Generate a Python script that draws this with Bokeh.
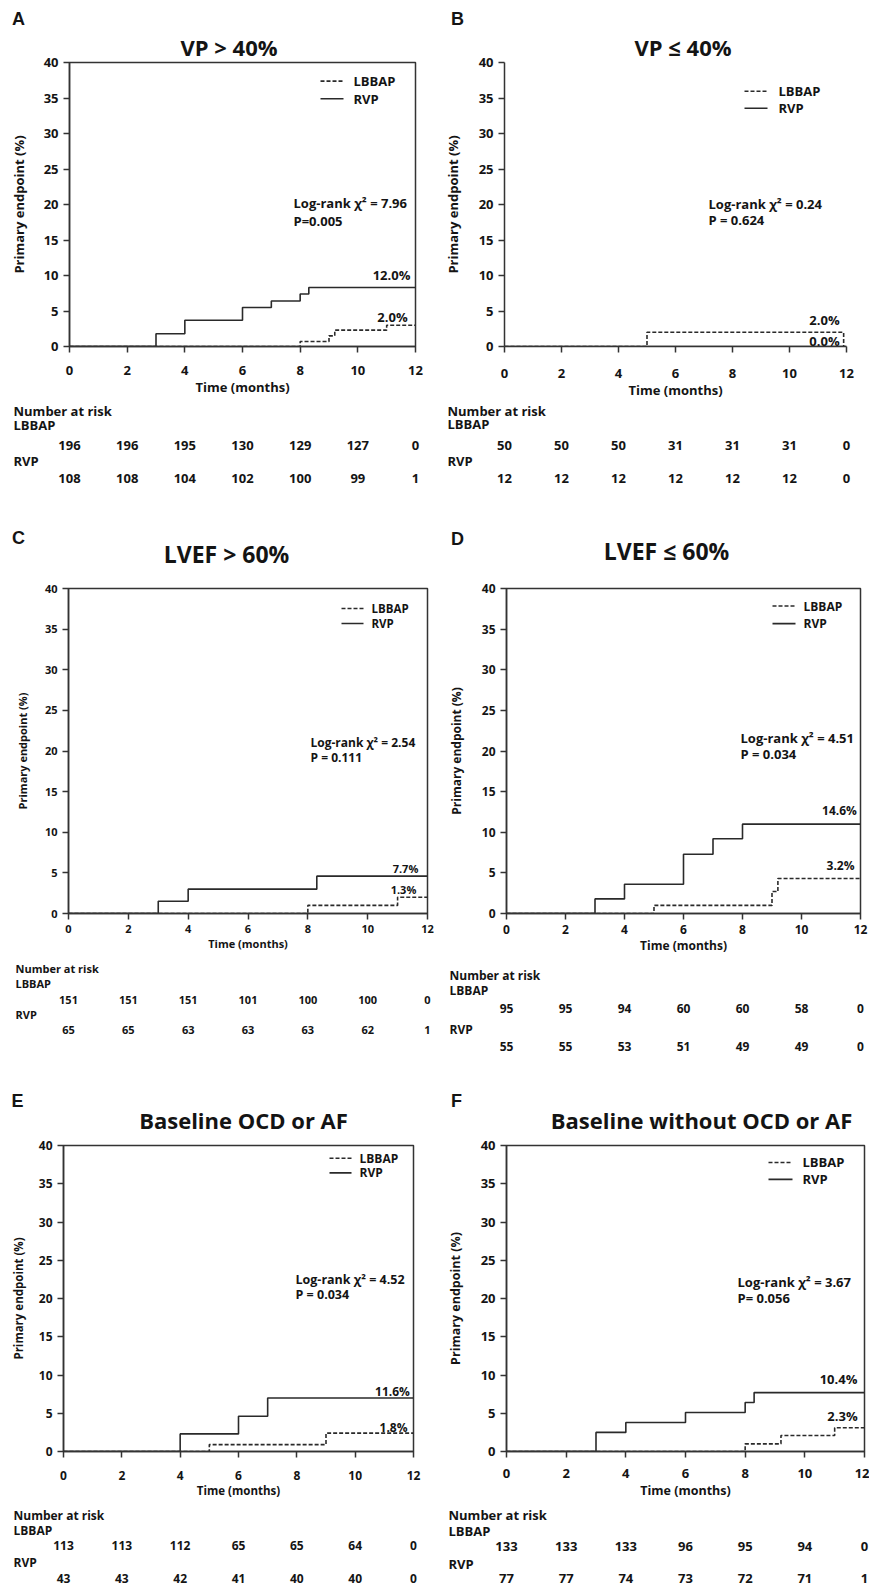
from bokeh.plotting import figure
from bokeh.layouts import column, row
from bokeh.models import Range1d, FixedTicker, Title
from bokeh.core.properties import value
from bokeh.embed import file_html
from bokeh.resources import INLINE

# ---------------- data ----------------
MONTH_TICKS = [0, 2, 4, 6, 8, 10, 12]
Y_TICKS = [0, 5, 10, 15, 20, 25, 30, 35, 40]
X_LABEL = "Time (months)"
Y_LABEL = "Primary endpoint (%)"
GROUPS = ["LBBAP", "RVP"]
RISK_HEADER = "Number at risk"

A_letter = "A"
A_title = "VP > 40%"
A_lbbap_t = [0, 8, 9, 9.2, 11, 12]
A_lbbap_v = [0, 0.7, 1.5, 2.3, 3.0, 3.0]
A_rvp_t = [0, 3, 4, 6, 7, 8, 8.3, 12]
A_rvp_v = [0, 1.8, 3.7, 5.5, 6.4, 7.4, 8.3, 8.3]
A_risk_lbbap = [196, 196, 195, 130, 129, 127, 0]
A_risk_rvp = [108, 108, 104, 102, 100, 99, 1]
A_stats = ["Log-rank χ² =  7.96", "P=0.005"]
A_end = ["12.0%", "2.0%"]

B_letter = "B"
B_title = "VP ≤ 40%"
B_lbbap_t = [0, 5, 11.9]
B_lbbap_v = [0, 2.0, 0]
B_rvp_t = [0, 12]
B_rvp_v = [0, 0]
B_risk_lbbap = [50, 50, 50, 31, 31, 31, 0]
B_risk_rvp = [12, 12, 12, 12, 12, 12, 0]
B_stats = ["Log-rank  χ² = 0.24", "P = 0.624"]
B_end = ["2.0%", "0.0%"]

C_letter = "C"
C_title = "LVEF > 60%"
C_lbbap_t = [0, 8, 11, 12]
C_lbbap_v = [0, 1.0, 2.0, 2.0]
C_rvp_t = [0, 3, 4, 8.3, 12]
C_rvp_v = [0, 1.5, 3.0, 4.6, 4.6]
C_risk_lbbap = [151, 151, 151, 101, 100, 100, 0]
C_risk_rvp = [65, 65, 63, 63, 63, 62, 1]
C_stats = ["Log-rank χ² = 2.54", "P = 0.111"]
C_end = ["7.7%", "1.3%"]

D_letter = "D"
D_title = "LVEF ≤ 60%"
D_lbbap_t = [0, 5, 9, 9.2, 12]
D_lbbap_v = [0, 1.0, 2.7, 4.3, 4.3]
D_rvp_t = [0, 3, 4, 6, 7, 8, 12]
D_rvp_v = [0, 1.8, 3.6, 7.3, 9.2, 11.0, 11.0]
D_risk_lbbap = [95, 95, 94, 60, 60, 58, 0]
D_risk_rvp = [55, 55, 53, 51, 49, 49, 0]
D_stats = ["Log-rank χ² = 4.51", "P = 0.034"]
D_end = ["14.6%", "3.2%"]

E_letter = "E"
E_title = "Baseline OCD or AF"
E_lbbap_t = [0, 5, 9, 12]
E_lbbap_v = [0, 0.9, 2.4, 2.4]
E_rvp_t = [0, 4, 6, 7, 12]
E_rvp_v = [0, 2.3, 4.6, 7.0, 7.0]
E_risk_lbbap = [113, 113, 112, 65, 65, 64, 0]
E_risk_rvp = [43, 43, 42, 41, 40, 40, 0]
E_stats = ["Log-rank χ² = 4.52", "P = 0.034"]
E_end = ["11.6%", "1.8%"]

F_letter = "F"
F_title = "Baseline without OCD or AF"
F_lbbap_t = [0, 8, 9.2, 11, 12]
F_lbbap_v = [0, 1.0, 2.1, 3.1, 3.1]
F_rvp_t = [0, 3, 4, 6, 8, 8.3, 12]
F_rvp_v = [0, 2.5, 3.8, 5.1, 6.4, 7.7, 7.7]
F_risk_lbbap = [133, 133, 133, 96, 95, 94, 0]
F_risk_rvp = [77, 77, 74, 73, 72, 71, 1]
F_stats = ["Log-rank  χ² = 3.67", "P= 0.056"]
F_end = ["10.4%", "2.3%"]

# ---------------- layout / style (page pixel coordinates) ----------------
FONT = "Open Sans"
LETTER_FONT = "Liberation Sans"
INK = "#141414"
LINE = "#2a2a2a"
AXIS = "#333333"
DASHES = ["4 2", "solid"]

LAYOUTS = {
    "A": dict(fig_x=(0, 434), row_y=(0, 500), header_bottom=28, frame=(69, 415, 60, 350), plot_bottom=401,
              letter=(18, 18), title=(234, 45), title_mode="axis", title_left=180, title_standoff=2,
              ylab_x=19, xtick_y=372, xfudge=3, xlab_y=392,
              table_x=13, table_y=[410, 424, 445, 460, 478],
              legend=(320, 79, 18, 23, 10), stats=(293, 203, 222), end=[(391, 277), (392, 320)],
              box=True, fs=dict(tick=13, axlab=13, table=13, legend=13, stats=13, end=13, title=22)),
    "B": dict(fig_x=(434, 869), row_y=(0, 500), header_bottom=28, frame=(504, 846, 62, 348), plot_bottom=401,
              letter=(457, 18), title=(686, 47), title_mode="axis", title_left=634, title_standoff=2,
              ylab_x=453, xtick_y=372, xfudge=4, xlab_y=392,
              table_x=447, table_y=[410, 423, 445, 460, 478],
              legend=(744, 91, 17, 23, 11), stats=(708, 204, 221), end=[(824, 321), (824, 342)],
              box=False, fs=dict(tick=13, axlab=13, table=13, legend=13, stats=13, end=13, title=22)),
    "C": dict(fig_x=(0, 434), row_y=(500, 1058), header_bottom=576, frame=(68, 427, 588, 913), plot_bottom=960,
              letter=(18, 537), title=(226, 553), title_mode="header",
              ylab_x=23, xtick_y=929, xfudge=0, xlab_y=944,
              table_x=15, table_y=[968, 983, 999, 1014, 1029],
              legend=(341, 608, 15, 22, 8), stats=(310, 742, 757), end=[(405, 868), (403, 889)],
              box=True, fs=dict(tick=11, axlab=11, table=11, legend=11.5, stats=12, end=11, title=23)),
    "D": dict(fig_x=(434, 869), row_y=(500, 1058), header_bottom=576, frame=(506, 860, 586, 919), plot_bottom=960,
              letter=(457, 538), title=(666, 550), title_mode="header",
              ylab_x=457, xtick_y=935, xfudge=0, xlab_y=950,
              table_x=449, table_y=[975, 990, 1008, 1029, 1046],
              legend=(772, 604, 18, 23, 8), stats=(740, 739, 756), end=[(839, 813), (840, 870)],
              box=True, fs=dict(tick=12, axlab=12, table=12, legend=12, stats=13, end=12, title=23)),
    "E": dict(fig_x=(0, 434), row_y=(1058, 1588), header_bottom=1135, frame=(63, 413, 1145, 1458), plot_bottom=1505,
              letter=(17, 1100), title=(243, 1119), title_mode="header",
              ylab_x=18, xtick_y=1478, xfudge=4, xlab_y=1497,
              table_x=13, table_y=[1515, 1530, 1545, 1562, 1578],
              legend=(329, 1158, 15, 22, 8), stats=(295, 1282, 1297), end=[(392, 1397), (393, 1433)],
              box=True, fs=dict(tick=12, axlab=11.5, table=12, legend=12, stats=12.5, end=12, title=22)),
    "F": dict(fig_x=(434, 869), row_y=(1058, 1588), header_bottom=1135, frame=(506, 864, 1144, 1451), plot_bottom=1505,
              letter=(456, 1100), title=(701, 1119), title_mode="header",
              ylab_x=456, xtick_y=1472, xfudge=2, xlab_y=1492,
              table_x=448, table_y=[1514, 1530, 1546, 1563, 1578],
              legend=(768, 1161, 17, 24, 10), stats=(737, 1281, 1297), end=[(838, 1378), (842, 1415)],
              box=True, fs=dict(tick=13, axlab=12.5, table=13, legend=13, stats=13, end=13, title=22)),
}

DATA = {
    "A": (A_letter, A_title, A_lbbap_t, A_lbbap_v, A_rvp_t, A_rvp_v, A_risk_lbbap, A_risk_rvp, A_stats, A_end),
    "B": (B_letter, B_title, B_lbbap_t, B_lbbap_v, B_rvp_t, B_rvp_v, B_risk_lbbap, B_risk_rvp, B_stats, B_end),
    "C": (C_letter, C_title, C_lbbap_t, C_lbbap_v, C_rvp_t, C_rvp_v, C_risk_lbbap, C_risk_rvp, C_stats, C_end),
    "D": (D_letter, D_title, D_lbbap_t, D_lbbap_v, D_rvp_t, D_rvp_v, D_risk_lbbap, D_risk_rvp, D_stats, D_end),
    "E": (E_letter, E_title, E_lbbap_t, E_lbbap_v, E_rvp_t, E_rvp_v, E_risk_lbbap, E_risk_rvp, E_stats, E_end),
    "F": (F_letter, F_title, F_lbbap_t, F_lbbap_v, F_rvp_t, F_rvp_v, F_risk_lbbap, F_risk_rvp, F_stats, F_end),
}


def bare_fig(w, h, xr, yr):
    f = figure(width=w, height=h, x_range=xr, y_range=yr, output_backend="svg", title=None,
               toolbar_location=None, x_axis_location=None, y_axis_location=None,
               min_border_left=0, min_border_right=0, min_border_top=0, min_border_bottom=0)
    f.outline_line_color = None
    f.grid.visible = False
    return f


def put_text(f, x, y, s, size, align="center", font=FONT):
    f.text(x=x if isinstance(x, list) else [x], y=y if isinstance(y, list) else [y],
           text=s if isinstance(s, list) else [s], text_font=value(font), text_font_size=f"{size}px",
           text_font_style="bold", text_color=INK, text_align=align, text_baseline="middle")


def make_panel(key):
    letter, title, lb_t, lb_v, rv_t, rv_v, risk_lb, risk_rv, stats, end = DATA[key]
    L = LAYOUTS[key]
    fs = L["fs"]
    fl, fr = L["fig_x"]
    top, bottom = L["row_y"]
    FL, FR, FT, FB = L["frame"]
    hb = L["header_bottom"]
    pb = L["plot_bottom"]
    W = fr - fl
    ppx = (FR - FL) / 12.0
    ppy = (FB - FT) / 40.0

    def dx(px):
        return (px - FL) / ppx

    def dy(py):
        return (FB - py) / ppy

    # header (panel letter, and the title when there is room for it)
    h = bare_fig(W, hb - top, Range1d(fl, fr), Range1d(hb, top))
    put_text(h, L["letter"][0], L["letter"][1], letter, 18, font=LETTER_FONT)
    if L["title_mode"] == "header":
        put_text(h, L["title"][0], L["title"][1], title, fs["title"])

    # main plot
    p = figure(width=W, height=pb - hb, x_range=Range1d(0, 12), y_range=Range1d(0, 40),
               output_backend="svg", toolbar_location=None, title=None,
               min_border_left=FL - fl, min_border_right=fr - FR,
               min_border_top=FT - hb, min_border_bottom=pb - FB)
    if L["title_mode"] == "axis":
        p.add_layout(Title(text=title, align="left", offset=L["title_left"] - FL,
                           standoff=L["title_standoff"], vertical_align="bottom",
                           text_font=FONT, text_font_size=f"{fs['title']}px", text_font_style="bold",
                           text_color=INK), "above")
    p.grid.visible = False
    p.background_fill_color = "white"
    p.border_fill_color = "white"
    if L["box"]:
        p.outline_line_color = AXIS
        p.outline_line_width = 1.5
        p.outline_line_alpha = 1.0
    else:
        p.outline_line_color = None
    p.xaxis.ticker = FixedTicker(ticks=MONTH_TICKS)
    p.yaxis.ticker = FixedTicker(ticks=Y_TICKS)
    for ax in (p.xaxis[0], p.yaxis[0]):
        ax.axis_line_color = AXIS
        ax.axis_line_width = 1.5
        ax.major_tick_line_color = AXIS
        ax.major_tick_line_width = 1.5
        ax.major_tick_in = 0
        ax.major_tick_out = 6
        ax.minor_tick_line_color = None
        ax.major_label_text_font = FONT
        ax.major_label_text_font_style = "bold"
        ax.major_label_text_font_size = f"{fs['tick']}px"
        ax.major_label_text_color = INK
        ax.axis_label_text_font = FONT
        ax.axis_label_text_font_style = "bold"
        ax.axis_label_text_font_size = f"{fs['axlab']}px"
        ax.axis_label_text_color = INK
    p.xaxis.axis_label = X_LABEL
    p.yaxis.axis_label = Y_LABEL
    xs = max(0, L["xtick_y"] - FB - 6 - 0.62 * fs["tick"] + 2 + L["xfudge"])
    p.xaxis.major_label_standoff = int(round(xs))
    lab_top = FB + 6 + xs + 1.25 * fs["tick"]
    p.xaxis.axis_label_standoff = int(round(max(0, L["xlab_y"] - lab_top - 0.62 * fs["axlab"] + L["xfudge"] / 2)))
    p.yaxis.major_label_standoff = 5
    tick_w = 2 * 0.6 * fs["tick"]
    lab_right = FL - 6 - 5 - tick_w
    p.yaxis.axis_label_standoff = int(round(max(0, lab_right - (L["ylab_x"] + 0.62 * fs["axlab"]) - 2)))

    # Kaplan-Meier style cumulative curves
    p.step(lb_t, lb_v, mode="after", line_color=LINE, line_width=1.6, line_dash=DASHES[0])
    p.step(rv_t, rv_v, mode="after", line_color=LINE, line_width=1.6)

    # legend key (line sample + label), placed in the upper right of the frame
    gx, gy, ih, gw, st = L["legend"]
    for i, (name, dash) in enumerate(zip(GROUPS, DASHES)):
        yy = gy + i * ih
        p.segment(x0=[dx(gx)], y0=[dy(yy)], x1=[dx(gx + gw)], y1=[dy(yy)],
                  line_color=LINE, line_width=1.6, line_dash=dash)
        put_text(p, dx(gx + gw + st), dy(yy), name, fs["legend"], "left")

    stx, sty1, sty2 = L["stats"]
    put_text(p, dx(stx), dy(sty1), stats[0], fs["stats"], "left")
    put_text(p, dx(stx), dy(sty2), stats[1], fs["stats"], "left")
    for (ex, ey), s in zip(L["end"], end):
        put_text(p, dx(ex), dy(ey), s, fs["end"], "center")

    # number-at-risk table: x in months (same scale as the plot), y in page pixels
    t = bare_fig(W, bottom - pb, Range1d(-(FL - fl) / ppx, 12 + (fr - FR) / ppx), Range1d(bottom, pb))
    ty = L["table_y"]
    lx = (L["table_x"] - FL) / ppx
    put_text(t, lx, ty[0], RISK_HEADER, fs["table"], "left")
    put_text(t, lx, ty[1], GROUPS[0], fs["table"], "left")
    put_text(t, lx, ty[3], GROUPS[1], fs["table"], "left")
    put_text(t, MONTH_TICKS, [ty[2]] * len(MONTH_TICKS), [str(v) for v in risk_lb], fs["table"], "center")
    put_text(t, MONTH_TICKS, [ty[4]] * len(MONTH_TICKS), [str(v) for v in risk_rv], fs["table"], "center")

    return h, p, t


P = {k: make_panel(k) for k in "ABCDEF"}
rows = []
for left, right in (("A", "B"), ("C", "D"), ("E", "F")):
    for i in range(3):
        rows.append(row(P[left][i], P[right][i], spacing=0))
page = column(*rows, spacing=0)

open("out.html", "w").write(file_html(page, INLINE))
